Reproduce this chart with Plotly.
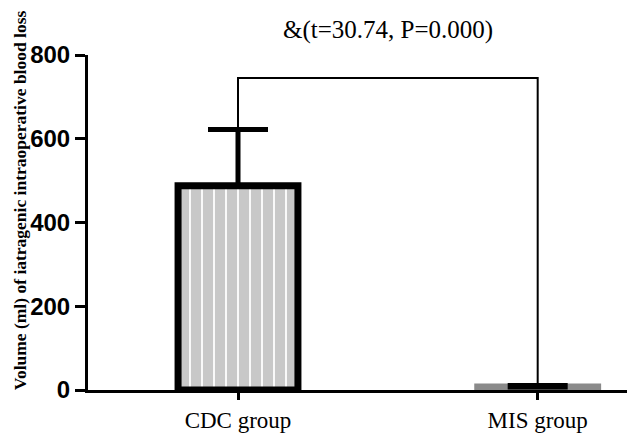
import plotly.graph_objects as go

categories = ["CDC group", "MIS group"]
means = [488, 7]
sds = [134, 4]
bracket_y = 745
stat_text = "&(t=30.74, P=0.000)"
y_ticks = [0, 200, 400, 600, 800]
y_title = "Volume (ml) of iatragenic intraoperative blood loss"

xs = list(range(len(categories)))

fig = go.Figure()
fig.add_trace(go.Bar(
    x=xs, y=means, width=0.40,
    marker=dict(
        color="#c8c8c8",
        line=dict(color=["black", "#8a8a8a"], width=7),
        pattern=dict(shape="|", size=12, solidity=0.15,
                     fgcolor="white", bgcolor="#c8c8c8", fillmode="replace"),
    ),
    error_y=dict(type="data", symmetric=False, array=sds,
                 arrayminus=[0, 0], color="black", thickness=5, width=30),
    showlegend=False,
))

# significance bracket
fig.add_shape(type="path",
              path=f"M {xs[0]},{means[0]+sds[0]} L {xs[0]},{bracket_y} "
                   f"L {xs[1]},{bracket_y} L {xs[1]},{means[1]+sds[1]}",
              xref="x", yref="y", line=dict(color="black", width=2))

fig.add_annotation(x=(xs[0]+xs[1])/2, xref="x", y=1.075, yref="paper",
                   xanchor="center", yanchor="middle",
                   text=stat_text, showarrow=False,
                   font=dict(family="Liberation Serif", size=25, color="black"))

fig.add_annotation(x=-0.126, xref="paper", y=0.567, yref="paper",
                   xanchor="center", yanchor="middle",
                   text=y_title, textangle=-90, showarrow=False,
                   font=dict(family="Liberation Serif", size=17.5, color="black",
                             weight="bold"))

fig.update_layout(
    width=627, height=433,
    margin=dict(l=88, r=0, t=55, b=43),
    paper_bgcolor="white", plot_bgcolor="white",
    xaxis=dict(range=[-0.5005, 1.298], tickvals=xs, ticktext=categories,
               showline=True, linecolor="black", linewidth=3,
               ticks="outside", ticklen=7, tickwidth=3, tickcolor="black",
               showgrid=False, zeroline=False,
               tickfont=dict(family="Liberation Serif", size=23, color="black")),
    yaxis=dict(range=[0, 800], tickvals=y_ticks,
               showline=True, linecolor="black", linewidth=3,
               ticks="outside", ticklen=10, tickwidth=3, tickcolor="black",
               showgrid=False, zeroline=False,
               tickfont=dict(family="Liberation Sans", size=24, color="black",
                             weight="bold")),
)

fig.write_html("out.html", config={"displayModeBar": False},
               post_script="document.body.style.margin='0';document.body.style.overflow='hidden';")
